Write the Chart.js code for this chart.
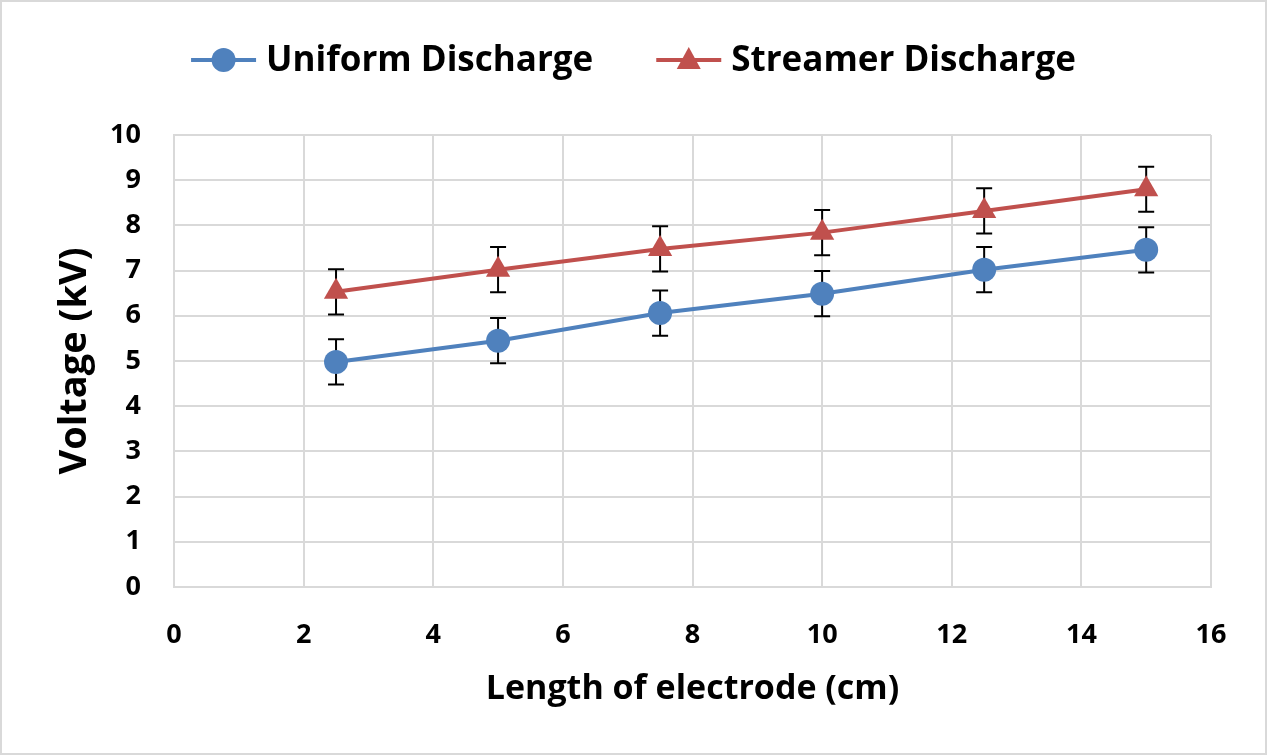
<!DOCTYPE html>
<html>
<head>
<meta charset="utf-8">
<script src="https://cdn.jsdelivr.net/npm/chart.js@4.4.1/dist/chart.umd.min.js"></script>
<style>
  html, body { margin: 0; padding: 0; background: #fff; }
  #wrap { width: 1267px; height: 755px; }
</style>
</head>
<body>
<div id="wrap"><canvas id="c" width="1267" height="755"></canvas></div>
<script>
// electrode length (cm)
const lengths = [2.5, 5, 7.5, 10, 12.5, 15];
// breakdown voltage (kV)
const uniformVolts = [4.98, 5.45, 6.06, 6.49, 7.02, 7.46];
const streamerVolts = [6.53, 7.02, 7.48, 7.84, 8.32, 8.80];
// +/- error (kV)
const uniformErr = [0.5, 0.5, 0.5, 0.5, 0.5, 0.5];
const streamerErr = [0.5, 0.5, 0.5, 0.5, 0.5, 0.5];

const xTicks = [0, 2, 4, 6, 8, 10, 12, 14, 16];
const yTicks = [0, 1, 2, 3, 4, 5, 6, 7, 8, 9, 10];

const FONT = "'Open Sans', 'Noto Sans', sans-serif";
const BLUE = '#4f81bd';
const RED = '#c0504d';

const toPoints = (xs, ys, es) => xs.map((x, i) => ({ x, y: ys[i], err: es[i] }));

// white bg + thin frame
const frame = {
  id: 'frame',
  beforeDraw(chart) {
    const ctx = chart.ctx;
    ctx.save();
    ctx.fillStyle = '#fff';
    ctx.fillRect(0, 0, chart.width, chart.height);
    ctx.strokeStyle = '#d9d9d9';
    ctx.lineWidth = 2;
    ctx.strokeRect(1, 1, chart.width - 2, chart.height - 2);
    ctx.restore();
  }
};

// vertical error bars with caps, behind markers
const errorBars = {
  id: 'errorBars',
  beforeDatasetsDraw(chart) {
    const ctx = chart.ctx;
    const xs = chart.scales.x, ys = chart.scales.y;
    ctx.save();
    ctx.strokeStyle = '#000';
    ctx.lineWidth = 2;
    chart.data.datasets.forEach(ds => {
      ds.data.forEach(p => {
        const px = xs.getPixelForValue(p.x);
        const top = ys.getPixelForValue(p.y + p.err);
        const bot = ys.getPixelForValue(p.y - p.err);
        ctx.beginPath();
        ctx.moveTo(px, top); ctx.lineTo(px, bot);
        ctx.moveTo(px - 8, top); ctx.lineTo(px + 8, top);
        ctx.moveTo(px - 8, bot); ctx.lineTo(px + 8, bot);
        ctx.stroke();
      });
    });
    ctx.restore();
  }
};

// legend: line + marker + label, centred above plot
const lineLegend = {
  id: 'lineLegend',
  afterDraw(chart) {
    const ctx = chart.ctx;
    const y = 60;
    const sample = 65, textGap = 10, itemGap = 63;
    ctx.save();
    ctx.font = `bold 35px ${FONT}`;
    ctx.textBaseline = 'middle';
    const items = chart.data.datasets.map(ds => ({ ds, w: ctx.measureText(ds.label).width }));
    const total = items.reduce((s, it) => s + sample + textGap + it.w, 0) + itemGap * (items.length - 1);
    let x = chart.width / 2 - total / 2;
    items.forEach(({ ds, w }) => {
      ctx.strokeStyle = ds.borderColor;
      ctx.lineWidth = 4;
      ctx.beginPath();
      ctx.moveTo(x, y); ctx.lineTo(x + sample, y);
      ctx.stroke();
      const cx = x + sample / 2;
      ctx.fillStyle = ds.backgroundColor;
      ctx.beginPath();
      if (ds.pointStyle === 'triangle') {
        ctx.moveTo(cx, y - 13); ctx.lineTo(cx + 12, y + 9); ctx.lineTo(cx - 12, y + 9);
        ctx.closePath();
      } else {
        ctx.arc(cx, y, 12, 0, Math.PI * 2);
      }
      ctx.fill();
      ctx.fillStyle = '#000';
      ctx.fillText(ds.label, x + sample + textGap, y + 1);
      x += sample + textGap + w + itemGap;
    });
    ctx.restore();
  }
};

new Chart(document.getElementById('c'), {
  type: 'line',
  data: {
    datasets: [
      {
        label: 'Uniform Discharge',
        data: toPoints(lengths, uniformVolts, uniformErr),
        borderColor: BLUE,
        backgroundColor: BLUE,
        borderWidth: 4,
        pointStyle: 'circle',
        pointRadius: 12,
        pointHoverRadius: 12,
        pointBorderWidth: 0,
        tension: 0
      },
      {
        label: 'Streamer Discharge',
        data: toPoints(lengths, streamerVolts, streamerErr),
        borderColor: RED,
        backgroundColor: RED,
        borderWidth: 4,
        pointStyle: 'triangle',
        pointRadius: 14,
        pointHoverRadius: 14,
        pointBorderWidth: 0,
        tension: 0
      }
    ]
  },
  options: {
    responsive: false,
    animation: false,
    layout: { padding: { left: 48, top: 135, right: 56, bottom: 41 } },
    plugins: {
      legend: { display: false },
      tooltip: { enabled: false }
    },
    scales: {
      x: {
        type: 'linear',
        min: 0, max: 16,
        afterBuildTicks: s => { s.ticks = xTicks.map(v => ({ value: v })); },
        afterFit: s => { s.height = 755 - 587 - 41; },
        grid: { color: '#d9d9d9', lineWidth: 2, drawTicks: false },
        border: { color: '#d9d9d9', width: 2 },
        ticks: { padding: 32, color: '#000', font: { family: FONT, size: 27, weight: 'bold' } },
        title: {
          display: true, text: 'Length of electrode (cm)', color: '#000',
          font: { family: FONT, size: 34, weight: 'bold' }, padding: { top: 0, bottom: 4 }
        }
      },
      y: {
        min: 0, max: 10,
        afterBuildTicks: s => { s.ticks = yTicks.map(v => ({ value: v })); },
        afterFit: s => { s.width = 174 - 48; },
        grid: { color: '#d9d9d9', lineWidth: 2, drawTicks: false },
        border: { color: '#d9d9d9', width: 2 },
        ticks: { padding: 33, color: '#000', font: { family: FONT, size: 27, weight: 'bold' } },
        title: {
          display: true, text: 'Voltage (kV)', color: '#000',
          font: { family: FONT, size: 38, weight: 'bold' }, padding: { top: 4, bottom: 0 }
        }
      }
    }
  },
  plugins: [frame, errorBars, lineLegend]
});
</script>
</body>
</html>
